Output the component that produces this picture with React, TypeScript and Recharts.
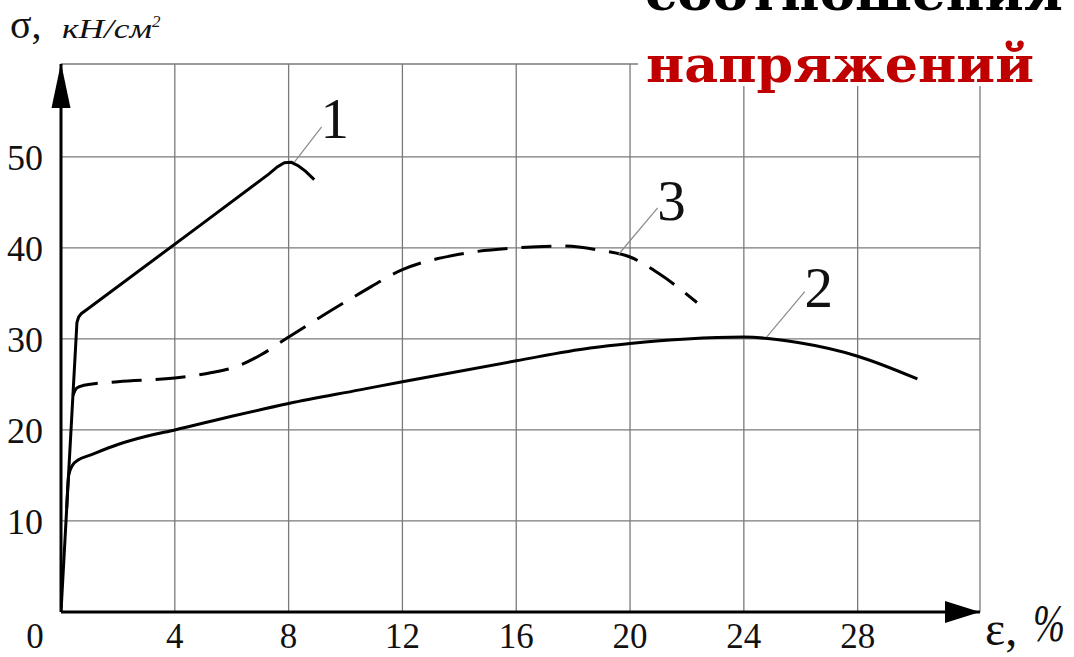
import React from 'react';
import {
  LineChart,
  Line,
  XAxis,
  YAxis,
  CartesianGrid,
  ReferenceDot,
  ReferenceLine,
} from 'recharts';

// Strain axis (ε, %) and stress axis (σ, кН/см²)
const strainTicks = [0, 4, 8, 12, 16, 20, 24, 28];
const stressTicks = [10, 20, 30, 40, 50];
const strainMax = 32.3;
const stressMax = 60.2;

// Curve 1 — brittle material, sharp rise then failure near 8 %
const curve1 = [
  { e: 0, s: 0 },
  { e: 0.56, s: 31.8 },
  { e: 0.62, s: 32.4 },
  { e: 0.72, s: 32.8 },
  { e: 0.9, s: 33.2 },
  { e: 4.9, s: 42.5 },
  { e: 7.3, s: 48.1 },
  { e: 7.6, s: 48.9 },
  { e: 7.85, s: 49.35 },
  { e: 8.1, s: 49.4 },
  { e: 8.35, s: 49.0 },
  { e: 8.6, s: 48.4 },
  { e: 8.9, s: 47.5 },
];

// Curve 2 — plastic material, long hardening stage
const curve2 = [
  { e: 0.2, s: 11.4 },
  { e: 0.27, s: 15.0 },
  { e: 0.4, s: 16.1 },
  { e: 0.6, s: 16.7 },
  { e: 1, s: 17.2 },
  { e: 2, s: 18.4 },
  { e: 3, s: 19.3 },
  { e: 4, s: 20.0 },
  { e: 6, s: 21.5 },
  { e: 8, s: 22.9 },
  { e: 10.5, s: 24.4 },
  { e: 12, s: 25.3 },
  { e: 16, s: 27.6 },
  { e: 18.6, s: 29.0 },
  { e: 20, s: 29.5 },
  { e: 22, s: 30.0 },
  { e: 24, s: 30.2 },
  { e: 25.9, s: 29.6 },
  { e: 28, s: 28.1 },
  { e: 30.1, s: 25.6 },
];

// Curve 3 — intermediate material (dashed)
const curve3 = [
  { e: 0.42, s: 23.8 },
  { e: 0.55, s: 24.6 },
  { e: 0.8, s: 24.9 },
  { e: 2, s: 25.3 },
  { e: 4, s: 25.7 },
  { e: 5.3, s: 26.3 },
  { e: 6.2, s: 27.0 },
  { e: 7, s: 28.2 },
  { e: 8, s: 30.2 },
  { e: 10.5, s: 35.0 },
  { e: 12, s: 37.6 },
  { e: 14, s: 39.3 },
  { e: 16, s: 40.0 },
  { e: 17.6, s: 40.2 },
  { e: 19, s: 39.7 },
  { e: 20, s: 39.0 },
  { e: 21, s: 37.2 },
  { e: 22.35, s: 34.0 },
];

// Curve numbers with leader lines (in data units)
const callouts = [
  { name: '1', at: { e: 9.62, s: 52.1 }, from: { e: 8.21, s: 49.45 }, to: { e: 9.16, s: 53.3 } },
  { name: '3', at: { e: 21.46, s: 43.1 }, from: { e: 19.6, s: 39.3 }, to: { e: 20.97, s: 44.4 } },
  { name: '2', at: { e: 26.63, s: 33.5 }, from: { e: 24.8, s: 30.2 }, to: { e: 26.14, s: 35.2 } },
];

const serif = '"Liberation Serif", "Times New Roman", serif';
const slab = '"DejaVu Serif", serif';

const XTick = (props: any) => {
  const { x, y, payload } = props;
  const dx = payload.value === 0 ? -26 : 0;
  return (
    <text x={x + dx} y={y + 36} textAnchor="middle" fontFamily={serif} fontSize={35} fill="#111">
      {payload.value}
    </text>
  );
};

const YTick = (props: any) => {
  const { x, y, payload } = props;
  return (
    <text x={x - 18} y={y + 13} textAnchor="end" fontFamily={serif} fontSize={36} fill="#111">
      {payload.value}
    </text>
  );
};

const UpArrow = (props: any) => {
  const { cx, cy } = props;
  return <path d={`M${cx},${cy - 1} L${cx - 9.5},${cy + 44} L${cx + 9.5},${cy + 44} Z`} fill="#000" />;
};

const RightArrow = (props: any) => {
  const { cx, cy } = props;
  return <path d={`M${cx},${cy} L${cx - 35},${cy - 11} L${cx - 35},${cy + 11} Z`} fill="#000" />;
};

const CurveNumber = (text: string) => (props: any) => {
  const { cx, cy } = props;
  return (
    <text x={cx} y={cy} textAnchor="middle" fontFamily={serif} fontSize={57} fill="#111">
      {text}
    </text>
  );
};

export default function App() {
  return (
    <div style={{ position: 'absolute', left: 0, top: 0, width: 1074, height: 657, background: '#fff' }}>
      <LineChart
        width={1074}
        height={657}
        margin={{ top: 64, right: 94, bottom: 0, left: 0 }}
        style={{ position: 'absolute', left: 0, top: 0 }}
      >
        <CartesianGrid stroke="#7a7a7a" strokeWidth={1.3} />
        <XAxis
          type="number"
          dataKey="e"
          domain={[0, strainMax]}
          ticks={strainTicks}
          allowDataOverflow
          height={45}
          tickLine={false}
          tickSize={0}
          tickMargin={0}
          axisLine={{ stroke: '#000', strokeWidth: 3 }}
          tick={<XTick />}
          interval={0}
        />
        <YAxis
          type="number"
          dataKey="s"
          domain={[0, stressMax]}
          ticks={stressTicks}
          allowDataOverflow
          width={61}
          tickLine={false}
          tickSize={0}
          tickMargin={0}
          axisLine={{ stroke: '#000', strokeWidth: 3 }}
          tick={<YTick />}
          interval={0}
        />
        <Line
          data={curve1}
          dataKey="s"
          type="linear"
          stroke="#000"
          strokeWidth={3}
          dot={false}
          isAnimationActive={false}
        />
        <Line
          data={curve2}
          dataKey="s"
          type="monotone"
          stroke="#000"
          strokeWidth={3}
          dot={false}
          isAnimationActive={false}
        />
        <Line
          data={curve3}
          dataKey="s"
          type="monotone"
          stroke="#000"
          strokeWidth={3}
          strokeDasharray="30 14"
          dot={false}
          isAnimationActive={false}
        />
        {callouts.map((c) => (
          <ReferenceLine
            key={`l${c.name}`}
            segment={[
              { x: c.from.e, y: c.from.s },
              { x: c.to.e, y: c.to.s },
            ]}
            stroke="#8a8a8a"
            strokeWidth={1.2}
            ifOverflow="visible"
          />
        ))}
        {callouts.map((c) => (
          <ReferenceDot
            key={`n${c.name}`}
            x={c.at.e}
            y={c.at.s}
            ifOverflow="visible"
            shape={CurveNumber(c.name)}
          />
        ))}
        <ReferenceDot x={0} y={stressMax} ifOverflow="visible" shape={<UpArrow />} />
        <ReferenceDot x={strainMax} y={0} ifOverflow="visible" shape={<RightArrow />} />
      </LineChart>
      <svg
        width={1074}
        height={657}
        style={{ position: 'absolute', left: 0, top: 0, pointerEvents: 'none' }}
      >
        <rect x={638} y={0} width={436} height={86} fill="#fff" />
        <text x={645} y={10} fontFamily={slab} fontWeight="bold" fontSize={50} fill="#000" textLength={418} lengthAdjust="spacingAndGlyphs">
          соотношения
        </text>
        <text x={646} y={82} fontFamily={slab} fontWeight="bold" fontSize={50} fill="#c00000" textLength={388} lengthAdjust="spacingAndGlyphs">
          напряжений
        </text>
        <text x={10} y={38} fontFamily={serif} fontSize={40} fill="#111">
          σ,
        </text>
        <text x={62} y={38} fontFamily={serif} fontStyle="italic" fontSize={28} fill="#111" textLength={90} lengthAdjust="spacingAndGlyphs">
          кН/см
        </text>
        <text x={152} y={27} fontFamily={serif} fontStyle="italic" fontSize={17} fill="#111">
          2
        </text>
        <text x={985} y={645} fontFamily={serif} fontSize={48} fill="#111">
          ε,
        </text>
        <text x={1033} y={641} fontFamily={serif} fontStyle="italic" fontSize={52} fill="#111" textLength={32} lengthAdjust="spacingAndGlyphs">
          %
        </text>
      </svg>
    </div>
  );
}
